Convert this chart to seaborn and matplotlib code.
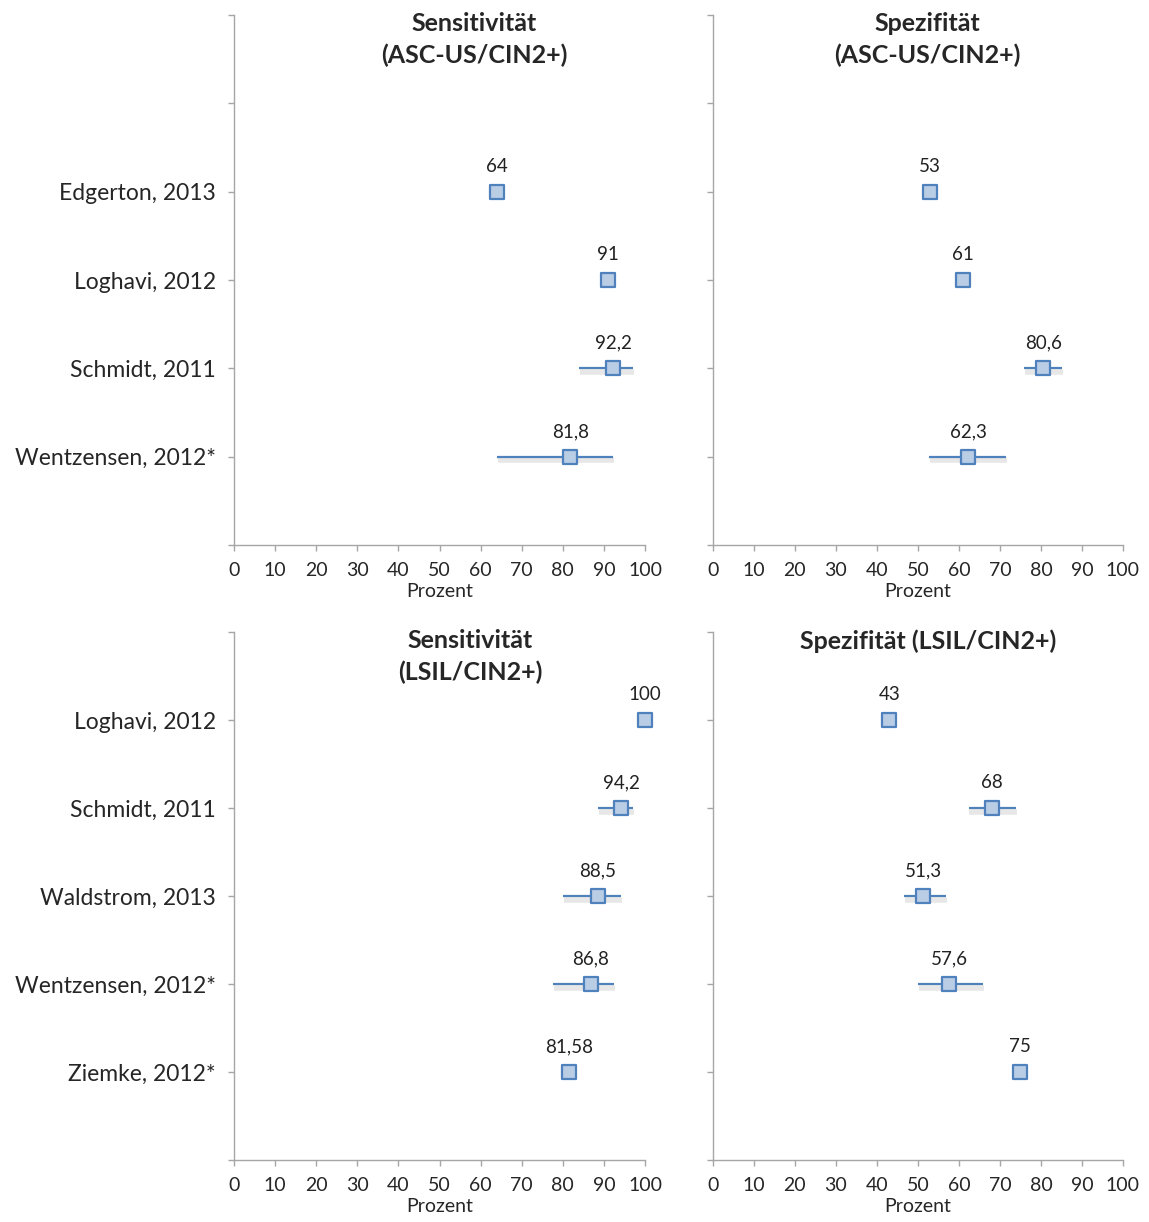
import numpy as np
import pandas as pd
import matplotlib
matplotlib.use("Agg")
import matplotlib.pyplot as plt
import matplotlib.patheffects as pe
import seaborn as sns

nan = np.nan

# Obere Reihe: ASC-US/CIN2+
studien_ascus = ["Edgerton, 2013", "Loghavi, 2012", "Schmidt, 2011", "Wentzensen, 2012*"]
pos_ascus = [4, 3, 2, 1]
sens_ascus = [64, 91, 92.2, 81.8]
sens_ascus_lo = [nan, nan, 83.9, 64.0]
sens_ascus_hi = [nan, nan, 97.1, 92.2]
spez_ascus = [53, 61, 80.6, 62.3]
spez_ascus_lo = [nan, nan, 75.9, 52.7]
spez_ascus_hi = [nan, nan, 85.1, 71.5]

# Untere Reihe: LSIL/CIN2+
studien_lsil = ["Loghavi, 2012", "Schmidt, 2011", "Waldstrom, 2013", "Wentzensen, 2012*", "Ziemke, 2012*"]
pos_lsil = [5, 4, 3, 2, 1]
sens_lsil = [100, 94.2, 88.5, 86.8, 81.58]
sens_lsil_lo = [nan, 88.6, 80.0, 77.6, nan]
sens_lsil_hi = [nan, 97.1, 94.2, 92.5, nan]
spez_lsil = [43, 68, 51.3, 57.6, 75]
spez_lsil_lo = [nan, 62.4, 46.6, 50.0, nan]
spez_lsil_hi = [nan, 73.9, 56.8, 65.9, nan]

sns.set_theme(style="white")
plt.rcParams['font.family'] = ['Lato', 'DejaVu Sans']

blau = '#4f81bd'
hellblau = '#b9cde5'
grau = '#a6a6a6'

fig = plt.figure(figsize=(11.49, 12.22), dpi=100)

# Achsenpositionen (Figurenkoordinaten)
ax_tl = fig.add_axes([0.2037, 0.554, 0.3577, 0.4337])
ax_tr = fig.add_axes([0.6205, 0.554, 0.3568, 0.4337])
ax_bl = fig.add_axes([0.2037, 0.0507, 0.3577, 0.432])
ax_br = fig.add_axes([0.6205, 0.0507, 0.3568, 0.432])


def fmt(v):
    return f"{v:g}".replace('.', ',')


def panel(ax, studien, pos, werte, lo, hi, titel, titel_x, mit_labels):
    df = pd.DataFrame({'Studie': studien, 'pos': pos, 'Wert': werte, 'lo': lo, 'hi': hi})
    ci = df.dropna(subset=['lo'])
    ax.hlines(ci['pos'], ci['lo'], ci['hi'], color=blau, linewidth=1.6, zorder=2,
              path_effects=[pe.SimpleLineShadow(offset=(0.5, -2.5), shadow_color='#888888',
                                                alpha=0.2, linewidth=4),
                            pe.Normal()])
    sns.scatterplot(data=df, x='Wert', y='pos', ax=ax, marker='s', s=110,
                    color=hellblau, edgecolor=blau, linewidth=1.6, zorder=3,
                    clip_on=False, legend=False)
    for _, r in df.iterrows():
        ax.annotate(fmt(r['Wert']), (r['Wert'], r['pos']), xytext=(0, 12),
                    textcoords='offset points', ha='center', va='bottom',
                    fontsize=13.5, color='#222222')
    ax.set_xlim(0, 100)
    ax.set_ylim(0, 6)
    ax.set_xticks(range(0, 101, 10))
    ax.set_yticks(range(7))
    if mit_labels:
        labels = [''] * 7
        for s, p in zip(studien, pos):
            labels[p] = s
        ax.set_yticklabels(labels, fontsize=16.5)
    else:
        ax.set_yticklabels([])
    ax.tick_params(axis='x', labelsize=14, length=4, color=grau, width=1, direction='out',
                   bottom=True, pad=8)
    ax.tick_params(axis='y', length=4, color=grau, width=1, direction='out', left=True, pad=9)
    for s in ['top', 'right']:
        ax.spines[s].set_visible(False)
    for s in ['left', 'bottom']:
        ax.spines[s].set_color(grau)
        ax.spines[s].set_linewidth(1)
    ax.set_xlabel('Prozent', fontsize=14, labelpad=3)
    ax.set_ylabel('')
    ax.text(titel_x, 1.006, titel, transform=ax.transAxes, ha='center', va='top',
            fontsize=18, fontweight='bold', linespacing=1.45)


panel(ax_tl, studien_ascus, pos_ascus, sens_ascus, sens_ascus_lo, sens_ascus_hi,
      'Sensitivität\n(ASC-US/CIN2+)', 0.584, True)
panel(ax_tr, studien_ascus, pos_ascus, spez_ascus, spez_ascus_lo, spez_ascus_hi,
      'Spezifität\n(ASC-US/CIN2+)', 0.524, False)
panel(ax_bl, studien_lsil, pos_lsil, sens_lsil, sens_lsil_lo, sens_lsil_hi,
      'Sensitivität\n(LSIL/CIN2+)', 0.574, True)
panel(ax_br, studien_lsil, pos_lsil, spez_lsil, spez_lsil_lo, spez_lsil_hi,
      'Spezifität (LSIL/CIN2+)', 0.524, False)

plt.savefig('out.png', dpi=100)
